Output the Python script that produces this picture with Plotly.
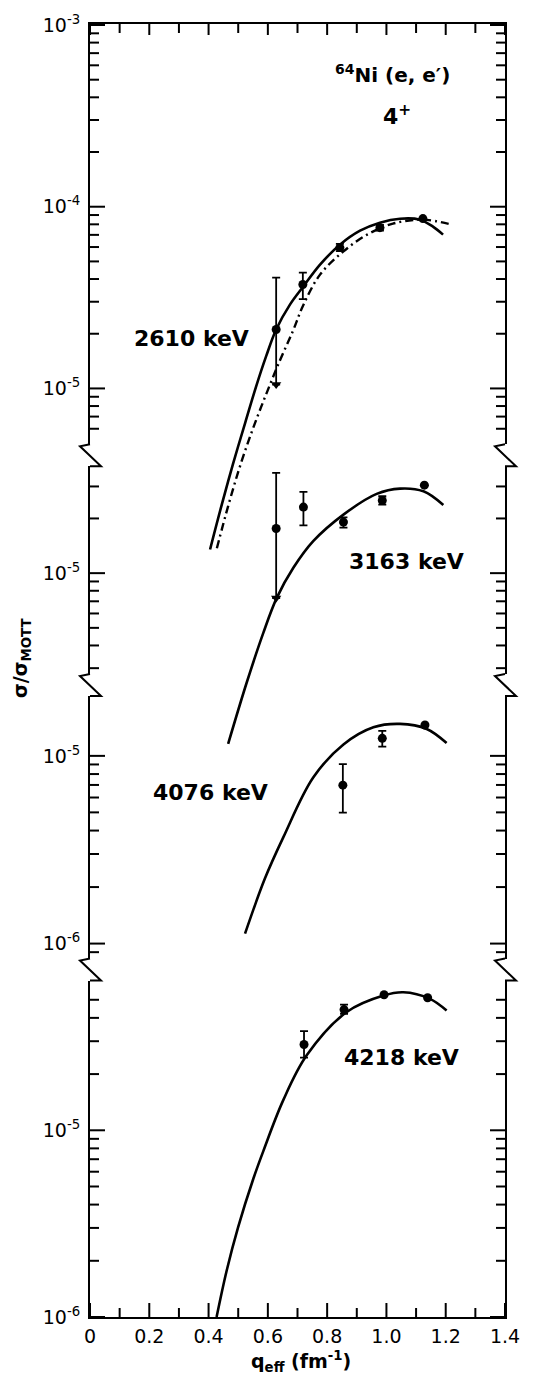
import math
import plotly.graph_objects as go

# ---- data (q_eff in fm^-1, sigma/sigma_Mott) ----

# 2610 keV
q_2610 = [0.628, 0.718, 0.843, 0.978, 1.123]
s_2610 = [2.11e-5, 3.73e-5, 5.96e-5, 7.67e-5, 8.6e-5]
s_2610_hi = [4.07e-5, 4.34e-5, 6.25e-5, 7.95e-5, 8.6e-5]
s_2610_lo = [1.05e-5, 3.1e-5, 5.7e-5, 7.4e-5, 8.6e-5]
lim_2610 = [True, False, False, False, False]
fit_q_2610 = [0.405, 0.445, 0.482, 0.523, 0.560, 0.594, 0.628, 0.675, 0.719,
              0.776, 0.843, 0.911, 0.978, 1.046, 1.113, 1.157, 1.191]
fit_s_2610 = [1.30e-6, 2.31e-6, 3.82e-6, 6.43e-6, 1.02e-5, 1.50e-5, 2.11e-5, 2.90e-5, 3.63e-5,
              4.80e-5, 6.18e-5, 7.38e-5, 8.17e-5, 8.59e-5, 8.49e-5, 7.77e-5, 7.02e-5]
alt_q_2610 = [0.428, 0.466, 0.506, 0.550, 0.594, 0.641, 0.685, 0.719, 0.776,
              0.854, 0.935, 1.022, 1.123, 1.221]
alt_s_2610 = [1.32e-6, 2.25e-6, 3.73e-6, 6.03e-6, 9.27e-6, 1.43e-5, 2.08e-5, 2.86e-5, 4.23e-5,
              5.66e-5, 7.02e-5, 8.07e-5, 8.49e-5, 7.96e-5]

# 3163 keV
q_3163 = [0.628, 0.720, 0.855, 0.986, 1.128]
s_3163 = [1.76e-5, 2.31e-5, 1.91e-5, 2.51e-5, 3.05e-5]
s_3163_hi = [3.56e-5, 2.80e-5, 2.03e-5, 2.65e-5, 3.05e-5]
s_3163_lo = [7.3e-6, 1.83e-5, 1.78e-5, 2.38e-5, 3.05e-5]
lim_3163 = [True, False, False, False, False]
fit_q_3163 = [0.466, 0.529, 0.585, 0.630, 0.686, 0.753, 0.855, 0.967, 1.046, 1.125, 1.192]
fit_s_3163 = [1.15e-6, 2.51e-6, 4.71e-6, 7.31e-6, 1.07e-5, 1.50e-5, 2.10e-5, 2.73e-5,
              2.92e-5, 2.82e-5, 2.37e-5]

# 4076 keV
q_4076 = [0.853, 0.986, 1.130]
s_4076 = [6.98e-6, 1.24e-5, 1.46e-5]
s_4076_hi = [9.03e-6, 1.36e-5, 1.46e-5]
s_4076_lo = [4.99e-6, 1.12e-5, 1.46e-5]
lim_4076 = [False, False, False]
fit_q_4076 = [0.523, 0.590, 0.652, 0.753, 0.855, 0.956, 1.046, 1.136, 1.203]
fit_s_4076 = [1.13e-6, 2.22e-6, 3.68e-6, 7.67e-6, 1.15e-5, 1.42e-5, 1.48e-5, 1.39e-5, 1.17e-5]

# 4218 keV
q_4218 = [0.722, 0.857, 0.992, 1.139]
s_4218 = [2.88e-5, 4.43e-5, 5.32e-5, 5.13e-5]
s_4218_hi = [3.40e-5, 4.71e-5, 5.32e-5, 5.13e-5]
s_4218_lo = [2.45e-5, 4.21e-5, 5.32e-5, 5.13e-5]
lim_4218 = [False, False, False, False]
fit_q_4218 = [0.427, 0.461, 0.500, 0.551, 0.585, 0.652, 0.731, 0.866, 0.990, 1.057, 1.147, 1.203]
fit_s_4218 = [1.0e-6, 1.77e-6, 3.04e-6, 5.50e-6, 7.76e-6, 1.45e-5, 2.52e-5, 4.30e-5,
              5.27e-5, 5.49e-5, 5.06e-5, 4.38e-5]

x_ticks = [0, 0.2, 0.4, 0.6, 0.8, 1.0, 1.2, 1.4]
x_ticktext = ["0", "0.2", "0.4", "0.6", "0.8", "1.0", "1.2", "1.4"]
x_minor = [0.1, 0.3, 0.5, 0.7, 0.9, 1.1, 1.3]

# ---- page geometry (pixels) ----
W, H = 536, 1376
LEFT, RIGHT, TOP, BOTTOM = 90, 505, 22, 1317
FONT = "DejaVu Sans"
LINE = dict(color="black", width=2)


def paper_x(px):
    return (px - LEFT) / (RIGHT - LEFT)


def paper_y(px):
    return (BOTTOM - px) / (BOTTOM - TOP)


def log_range(top_px, bottom_px, ref_exp, ref_px, decade_px):
    return [ref_exp - (bottom_px - ref_px) / decade_px,
            ref_exp + (ref_px - top_px) / decade_px]


# top, bottom, reference decade, its pixel row, pixels per decade, lowest row a curve may reach
panels = [
    (22, 443, -4, 205, 182, 560),
    (465, 673, -5, 572, 182, 750),
    (695, 958, -5, 755, 188, 958),
    (980, 1317, -5, 1130, 187, 1317),
]

series = [
    (q_2610, s_2610, s_2610_hi, s_2610_lo, lim_2610, fit_q_2610, fit_s_2610),
    (q_3163, s_3163, s_3163_hi, s_3163_lo, lim_3163, fit_q_3163, fit_s_3163),
    (q_4076, s_4076, s_4076_hi, s_4076_lo, lim_4076, fit_q_4076, fit_s_4076),
    (q_4218, s_4218, s_4218_hi, s_4218_lo, lim_4218, fit_q_4218, fit_s_4218),
]

fig = go.Figure()
layout = {}
shapes = []


def tick(x0, y0, x1, y1):
    shapes.append(dict(type="line", xref="paper", yref="paper",
                       x0=paper_x(x0), y0=paper_y(y0), x1=paper_x(x1), y1=paper_y(y1),
                       line=LINE, layer="above"))


for i, (top, bot, ref_exp, ref_px, dec, clip) in enumerate(panels):
    n = i + 1
    frame_name = "yaxis" if n == 1 else f"yaxis{n}"
    rng = log_range(top, bot, ref_exp, ref_px, dec)
    majors = [e for e in range(-8, 0) if rng[0] - 0.01 <= e <= rng[1] + 0.01]
    minors = [e + math.log10(m) for e in range(-8, 0) for m in range(2, 10)
              if rng[0] + 0.03 < e + math.log10(m) < rng[1] - 0.03]
    layout[frame_name] = dict(
        type="log", range=rng, domain=[paper_y(bot), paper_y(top)], anchor="x",
        showline=True, linecolor="black", linewidth=2, mirror=True,
        ticks="", tickmode="array", tickvals=[10.0 ** e for e in majors],
        ticktext=[f"10<sup>{e}</sup>" for e in majors],
        showgrid=False, zeroline=False, ticklabelstandoff=4,
        tickfont=dict(family=FONT, size=19, color="black"),
    )
    # tick marks on both side frames
    for lv, ln in [(e, 15) for e in majors] + [(e, 9) for e in minors]:
        py = ref_px - (lv - ref_exp) * dec
        tick(LEFT, py, LEFT + ln, py)
        tick(RIGHT - ln, py, RIGHT, py)

    # invisible companion axis used for the curves, which may run past the frame
    layout[f"yaxis{n + 4}"] = dict(
        type="log", range=log_range(top, clip, ref_exp, ref_px, dec),
        domain=[paper_y(clip), paper_y(top)], anchor="x", visible=False,
    )
    fig.add_trace(go.Scatter(x=[None], y=[None], xaxis="x2" if n == 1 else "x",
                             yaxis="y" if n == 1 else f"y{n}", showlegend=False,
                             hoverinfo="skip"))

    q, s, hi, lo, lim, fq, fs = series[i]
    cy = f"y{n + 4}"
    fig.add_trace(go.Scatter(
        x=fq, y=fs, mode="lines", xaxis="x", yaxis=cy,
        line=dict(color="black", width=2.6, shape="spline", smoothing=1.0),
        showlegend=False,
    ))
    if n == 1:
        fig.add_trace(go.Scatter(
            x=alt_q_2610, y=alt_s_2610, mode="lines", xaxis="x", yaxis=cy,
            line=dict(color="black", width=2.4, shape="spline", smoothing=1.0,
                      dash="8px,4px,2px,4px"),
            showlegend=False,
        ))
    fig.add_trace(go.Scatter(
        x=q, y=s, mode="markers", xaxis="x", yaxis=cy,
        marker=dict(symbol="circle", size=9, color="black"),
        error_y=dict(type="data", symmetric=False,
                     array=[h - v for h, v in zip(hi, s)],
                     arrayminus=[v - l for l, v in zip(lo, s)],
                     color="black", thickness=1.8, width=4),
        showlegend=False,
    ))
    arrow_q = [x for x, f in zip(q, lim) if f]
    arrow_s = [l for l, f in zip(lo, lim) if f]
    if arrow_q:
        fig.add_trace(go.Scatter(
            x=arrow_q, y=arrow_s, mode="markers", xaxis="x", yaxis=cy,
            marker=dict(symbol="triangle-down", size=9, color="black"),
            showlegend=False,
        ))

# x tick marks, bottom and top frame
for v in x_ticks + x_minor:
    px = LEFT + v / 1.4 * (RIGHT - LEFT)
    ln = 14 if v in x_ticks else 9
    tick(px, BOTTOM, px, BOTTOM - ln)
    tick(px, TOP, px, TOP + (11 if v in x_ticks else 9))

# zig-zag breaks between the panels on both side frames
for i in range(3):
    b = panels[i][1]
    t = panels[i + 1][0]
    for X in (LEFT, RIGHT):
        pts = [(X, b), (X - 10, b + 2), (X + 11, t), (X, t)]
        path = "M " + " L ".join(f"{paper_x(px):.5f},{paper_y(py):.5f}" for px, py in pts)
        shapes.append(dict(type="path", path=path, xref="paper", yref="paper", line=LINE))

axis_common = dict(
    range=[0, 1.4], domain=[0, 1], showline=True, linecolor="black", linewidth=2,
    ticks="", showgrid=False, zeroline=False, tickmode="array", tickvals=x_ticks,
)
layout["xaxis"] = dict(
    axis_common, anchor="y4", ticktext=x_ticktext, ticklabelstandoff=1,
    tickfont=dict(family=FONT, size=19, color="black"),
)
layout["xaxis2"] = dict(
    axis_common, anchor="y", side="top", overlaying="x", matches="x",
    showticklabels=False,
)


def label(text, px, py, size, **kw):
    return dict(text=text, x=paper_x(px), y=paper_y(py), xref="paper", yref="paper",
                showarrow=False, xanchor="center", yanchor="middle",
                font=dict(family=FONT, size=size, color="black"), **kw)


annotations = [
    label("<b><sup>64</sup>Ni (e, e′)</b>", 392, 72, 20),
    label("<b>4<sup>+</sup></b>", 397, 113, 22),
    label("<b>2610 keV</b>", 191, 337, 22),
    label("<b>3163 keV</b>", 406, 560, 22),
    label("<b>4076 keV</b>", 210, 792, 22),
    label("<b>4218 keV</b>", 401, 1057, 22),
    label("<b>σ/σ<sub>MOTT</sub></b>", 21, 657, 19, textangle=-90),
    label("<b>q<sub>eff</sub> (fm<sup>-1</sup>)</b>", 301, 1362, 19),
]

fig.update_layout(
    width=W, height=H,
    margin=dict(l=LEFT, r=W - RIGHT, t=TOP, b=H - BOTTOM, pad=0),
    paper_bgcolor="white", plot_bgcolor="rgba(0,0,0,0)",
    font=dict(family=FONT, color="black"),
    showlegend=False,
    shapes=shapes,
    annotations=annotations,
    **layout,
)

fig.write_html("out.html", config={"displayModeBar": False},
               post_script="document.body.style.margin='0px';")
